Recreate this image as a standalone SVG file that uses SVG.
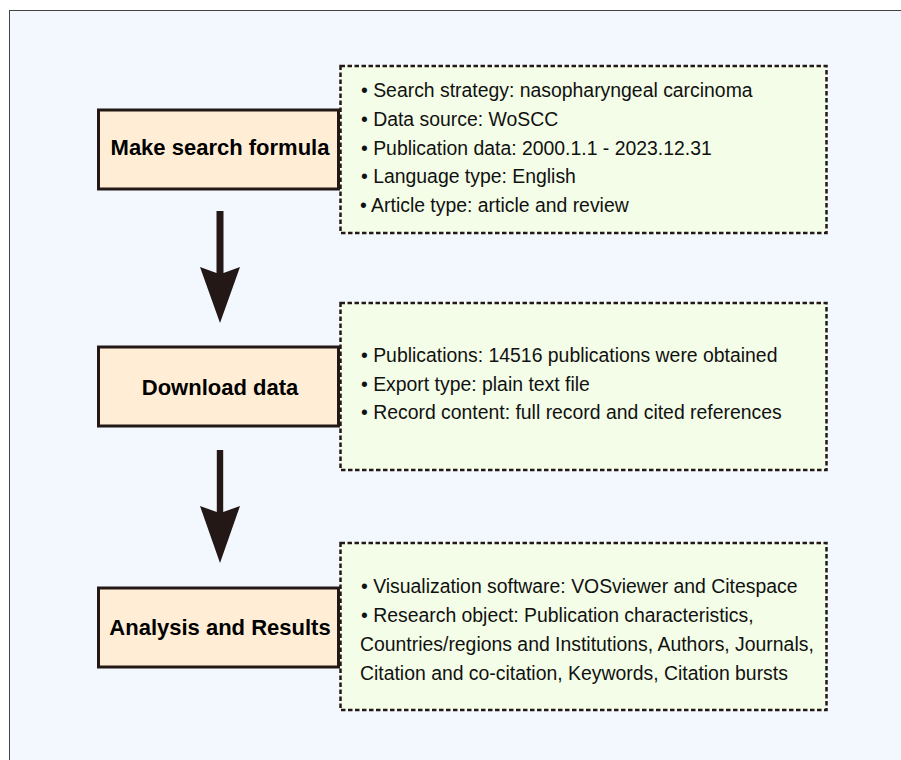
<svg xmlns="http://www.w3.org/2000/svg" width="901" height="760" viewBox="0 0 901 760">
<style>
.step{fill:#FFEED5;stroke:#231815;stroke-width:3}
.info{fill:#F4FDE7;stroke:#231815;stroke-width:2.5;stroke-dasharray:4.5 2.5}
.title{font-family:"Liberation Sans",Arial,sans-serif;font-weight:bold;font-size:22px;fill:#000;text-anchor:middle}
.txt{font-family:"Liberation Sans",Arial,sans-serif;font-size:19.4px;fill:#111}
.arrow{fill:#231815}
</style>
<rect x="0" y="0" width="901" height="760" fill="#ffffff"/>
<rect x="9.5" y="10.5" width="1000" height="800" fill="#F3F8FF" stroke="#444444" stroke-width="1"/>

<g id="connectors">
  <path class="arrow" d="M216.5 211 H223.5 V273 L240 267 L220 323 L200 267 L216.5 273 Z"/>
  <path class="arrow" d="M216.8 450 H223.2 V512 L240 506 L220 563 L200 506 L216.8 512 Z"/>
</g>

<g id="make-search-formula">
  <rect class="step" x="98.5" y="110" width="240" height="79"/>
  <text class="title" x="220" y="155">Make search formula</text>
</g>
<g id="search-details">
  <rect class="info" x="340.5" y="66" width="486" height="167"/>
  <text class="txt" x="361" y="97">• Search strategy: nasopharyngeal carcinoma</text>
  <text class="txt" x="361" y="126">• Data source: WoSCC</text>
  <text class="txt" x="361" y="154.5">• Publication data: 2000.1.1 - 2023.12.31</text>
  <text class="txt" x="361" y="183">• Language type: English</text>
  <text class="txt" x="360" y="212">• Article type: article and review</text>
</g>

<g id="download-data">
  <rect class="step" x="98.5" y="347" width="240" height="79"/>
  <text class="title" x="220" y="395">Download data</text>
</g>
<g id="download-details">
  <rect class="info" x="340.5" y="303" width="486" height="167"/>
  <text class="txt" x="361" y="362">• Publications: 14516 publications were obtained</text>
  <text class="txt" x="361" y="391">• Export type: plain text file</text>
  <text class="txt" x="361" y="419">• Record content: full record and cited references</text>
</g>

<g id="analysis-results">
  <rect class="step" x="98.5" y="588" width="240" height="79"/>
  <text class="title" x="220" y="635">Analysis and Results</text>
</g>
<g id="analysis-details">
  <rect class="info" x="340.5" y="543" width="486" height="167"/>
  <text class="txt" x="361" y="593">• Visualization software: VOSviewer and Citespace</text>
  <text class="txt" x="361" y="622">• Research object: Publication characteristics,</text>
  <text class="txt" x="360" y="651">Countries/regions and Institutions, Authors, Journals,</text>
  <text class="txt" x="360" y="680">Citation and co-citation, Keywords, Citation bursts</text>
</g>
</svg>
